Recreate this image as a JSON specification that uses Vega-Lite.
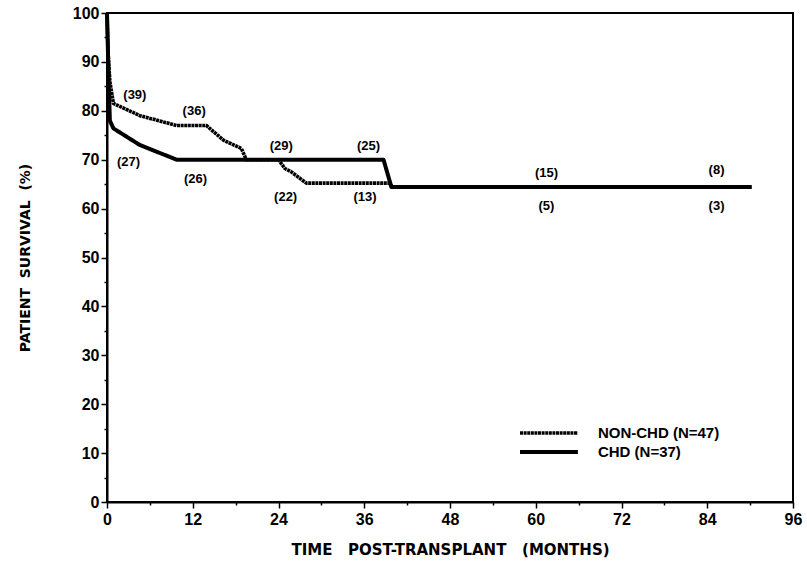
{
  "$schema": "https://vega.github.io/schema/vega-lite/v6.json",
  "width": 686,
  "height": 489,
  "autosize": {"type": "none"},
  "padding": {"left": 107, "top": 13, "right": 14, "bottom": 72},
  "background": "white",
  "config": {
    "view": {"stroke": "black", "strokeWidth": 2},
    "font": "Liberation Sans",
    "axis": {
      "domainColor": "black", "domainWidth": 2, "tickColor": "black", "tickWidth": 1.5,
      "grid": false, "labelColor": "black", "titleColor": "black",
      "labelFont": "Liberation Sans", "titleFont": "DejaVu Sans",
      "labelFontWeight": "bold", "titleFontWeight": "bold", "labelFontSize": 16
    }
  },
  "datasets": {
    "curves": [
      {"group": "CHD", "x": 0, "y": 100},
      {"group": "CHD", "x": 0.2, "y": 88},
      {"group": "CHD", "x": 0.4, "y": 78},
      {"group": "CHD", "x": 0.9, "y": 76.4},
      {"group": "CHD", "x": 4.6, "y": 73},
      {"group": "CHD", "x": 9.75, "y": 70},
      {"group": "CHD", "x": 38.7, "y": 70},
      {"group": "CHD", "x": 39.8, "y": 64.4},
      {"group": "CHD", "x": 90.2, "y": 64.4},
      {"group": "NON-CHD", "x": 0, "y": 100},
      {"group": "NON-CHD", "x": 0.15, "y": 92},
      {"group": "NON-CHD", "x": 0.4, "y": 86},
      {"group": "NON-CHD", "x": 0.9, "y": 81.5},
      {"group": "NON-CHD", "x": 4.6, "y": 79},
      {"group": "NON-CHD", "x": 9.75, "y": 77},
      {"group": "NON-CHD", "x": 13.9, "y": 77},
      {"group": "NON-CHD", "x": 16.3, "y": 74},
      {"group": "NON-CHD", "x": 18.8, "y": 72.3},
      {"group": "NON-CHD", "x": 19.5, "y": 70},
      {"group": "NON-CHD", "x": 24, "y": 70},
      {"group": "NON-CHD", "x": 24.9, "y": 68.2},
      {"group": "NON-CHD", "x": 25.8, "y": 67.5},
      {"group": "NON-CHD", "x": 27.9, "y": 65.2},
      {"group": "NON-CHD", "x": 39.5, "y": 65.2},
      {"group": "NON-CHD", "x": 40, "y": 64.4},
      {"group": "NON-CHD", "x": 90.2, "y": 64.4}
    ],
    "labels": [
      {"x": 3.9, "y": 83.2, "text": "(39)"},
      {"x": 12.2, "y": 80, "text": "(36)"},
      {"x": 3, "y": 69.5, "text": "(27)"},
      {"x": 12.4, "y": 66, "text": "(26)"},
      {"x": 24.4, "y": 72.9, "text": "(29)"},
      {"x": 36.6, "y": 72.7, "text": "(25)"},
      {"x": 25, "y": 62.3, "text": "(22)"},
      {"x": 36.1, "y": 62.3, "text": "(13)"},
      {"x": 61.5, "y": 67.2, "text": "(15)"},
      {"x": 61.5, "y": 60.5, "text": "(5)"},
      {"x": 85.3, "y": 67.8, "text": "(8)"},
      {"x": 85.3, "y": 60.5, "text": "(3)"}
    ],
    "legendLines": [
      {"group": "NON-CHD", "x": 57.8, "y": 14.1},
      {"group": "NON-CHD", "x": 65.9, "y": 14.1},
      {"group": "CHD", "x": 57.8, "y": 10.2},
      {"group": "CHD", "x": 65.9, "y": 10.2}
    ],
    "legendText": [
      {"x": 68.7, "y": 14.1, "text": "NON-CHD (N=47)"},
      {"x": 68.7, "y": 10.2, "text": "CHD (N=37)"}
    ]
  },
  "resolve": {"axis": {"x": "independent", "y": "independent"}},
  "layer": [
    {
      "data": {"name": "curves"},
      "mark": {"type": "line", "strokeCap": "butt", "strokeJoin": "round"},
      "encoding": {
        "x": {"field": "x", "type": "quantitative",
              "scale": {"domain": [0, 96], "nice": false, "zero": false},
              "axis": {"orient": "bottom", "values": [0, 12, 24, 36, 48, 60, 72, 84, 96], "tickSize": 6, "labelFontSize": 16, "labelPadding": 3, "labelFlush": false,
                       "title": "TIME\u00a0\u00a0\u00a0POST-TRANSPLANT\u00a0\u00a0\u00a0(MONTHS)", "titleFontSize": 15, "titlePadding": 15}},
        "y": {"field": "y", "type": "quantitative",
              "scale": {"domain": [0, 100], "nice": false},
              "axis": {"orient": "left", "values": [0, 10, 20, 30, 40, 50, 60, 70, 80, 90, 100], "tickSize": 6, "labelFontSize": 16, "labelPadding": 2,
                       "title": "PATIENT\u00a0\u00a0SURVIVAL\u00a0\u00a0(%)", "titleFontSize": 14, "titlePadding": 40}},
        "detail": {"field": "group"},
        "order": {"field": "x", "type": "quantitative"},
        "size": {"field": "group", "type": "nominal", "scale": {"domain": ["NON-CHD", "CHD"], "range": [3.6, 4]}, "legend": null},
        "color": {"field": "group", "type": "nominal", "scale": {"domain": ["NON-CHD", "CHD"], "range": ["#000000", "black"]}, "legend": null},
        "strokeDash": {"field": "group", "type": "nominal", "scale": {"domain": ["NON-CHD", "CHD"], "range": [[3, 0.6], [1, 0]]}, "legend": null}
      }
    },
    {
      "data": {"name": "curves"},
      "mark": {"type": "point", "opacity": 0},
      "encoding": {
        "x": {"field": "x", "type": "quantitative", "scale": {"domain": [0, 96], "nice": false, "zero": false},
              "axis": {"orient": "bottom", "values": [6, 18, 30, 42, 54, 66, 78, 90], "tickSize": 3, "labels": false, "domain": false, "title": null}},
        "y": {"field": "y", "type": "quantitative", "scale": {"domain": [0, 100], "nice": false},
              "axis": {"orient": "left", "values": [5, 15, 25, 35, 45, 55, 65, 75, 85, 95], "tickSize": 3, "labels": false, "domain": false, "title": null}}
      }
    },
    {
      "data": {"name": "labels"},
      "mark": {"type": "text", "fontSize": 13, "fontWeight": "bold", "font": "Liberation Sans", "color": "black", "align": "center", "baseline": "middle"},
      "encoding": {
        "x": {"field": "x", "type": "quantitative", "axis": null},
        "y": {"field": "y", "type": "quantitative", "axis": null},
        "text": {"field": "text"}
      }
    },
    {
      "data": {"name": "legendLines"},
      "mark": {"type": "line", "strokeCap": "butt"},
      "encoding": {
        "x": {"field": "x", "type": "quantitative", "axis": null},
        "y": {"field": "y", "type": "quantitative", "axis": null},
        "detail": {"field": "group"},
        "size": {"field": "group", "type": "nominal", "scale": {"domain": ["NON-CHD", "CHD"], "range": [3, 4.5]}, "legend": null},
        "color": {"field": "group", "type": "nominal", "scale": {"domain": ["NON-CHD", "CHD"], "range": ["#000000", "black"]}, "legend": null},
        "strokeDash": {"field": "group", "type": "nominal", "scale": {"domain": ["NON-CHD", "CHD"], "range": [[3, 0.6], [1, 0]]}, "legend": null}
      }
    },
    {
      "data": {"name": "legendText"},
      "mark": {"type": "text", "fontSize": 15, "fontWeight": "bold", "font": "Liberation Sans", "color": "black", "align": "left", "baseline": "middle"},
      "encoding": {
        "x": {"field": "x", "type": "quantitative", "axis": null},
        "y": {"field": "y", "type": "quantitative", "axis": null},
        "text": {"field": "text"}
      }
    }
  ]
}
